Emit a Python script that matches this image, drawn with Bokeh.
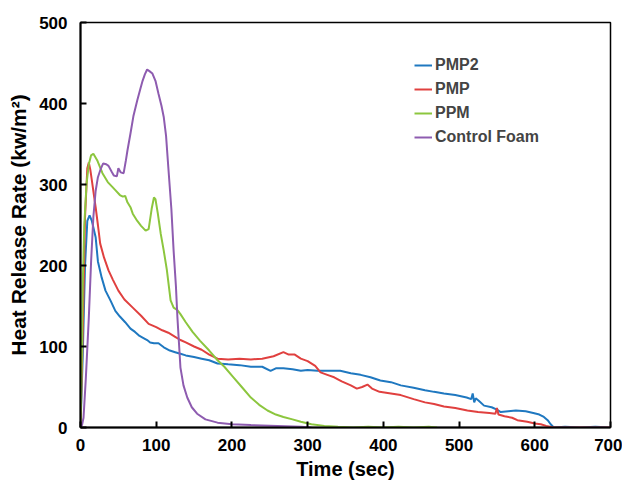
from bokeh.plotting import figure
from bokeh.models import Legend, LegendItem, FixedTicker
from bokeh.embed import file_html
from bokeh.resources import INLINE

# PMP2 (blue)
pmp2_t = [0, 3, 6, 9, 12, 15, 20, 23, 28, 33, 40, 46, 52, 59, 66, 72, 78, 82, 88, 92, 97, 103, 110, 118, 125, 132, 139, 150, 160, 170, 181, 195, 210, 225, 240, 251, 258, 268, 280, 291, 300, 313, 330, 343, 357, 370, 383, 396, 410, 423, 440, 455, 467, 480, 495, 510, 516, 518, 520, 522, 526, 533, 543, 550, 555, 565, 575, 588, 598, 606, 612, 617, 621, 625, 640, 660, 680, 700]
pmp2_y = [0, 90, 200, 255, 262, 255, 235, 205, 185, 169, 156, 144, 137, 130, 122, 118, 113, 111, 108, 105, 104, 104, 99, 95, 93, 91, 89, 87, 85, 83, 79, 78, 77, 75, 75, 70, 73, 73, 72, 70, 71, 70, 70, 70, 67, 65, 62, 58, 56, 52, 49, 46, 44, 42, 40, 37, 35, 42, 31, 36, 33, 27, 25, 22, 19, 20, 21, 20, 18, 16, 13, 9, 4, 0, 1, 0, 1, 0]

# PMP (red)
pmp_t = [0, 3, 6, 9, 11, 13, 15, 18, 20, 23, 26, 31, 37, 43, 50, 58, 69, 80, 90, 100, 108, 116, 125, 132, 139, 150, 160, 170, 181, 195, 210, 225, 240, 255, 268, 275, 283, 291, 300, 310, 317, 326, 335, 345, 357, 365, 372, 379, 385, 395, 410, 423, 440, 455, 467, 480, 495, 511, 525, 540, 548, 550, 552, 560, 570, 577, 590, 600, 608, 615, 625, 650, 675, 700]
pmp_y = [0, 120, 260, 320, 327, 318, 305, 285, 272, 250, 227, 210, 194, 182, 169, 158, 148, 138, 128, 124, 120, 117, 112, 108, 105, 100, 96, 90, 85, 84, 85, 84, 85, 88, 93, 90, 90, 85, 82, 76, 68, 65, 62, 57, 52, 48, 50, 53, 48, 44, 42, 40, 35, 31, 29, 26, 24, 21, 19, 18, 17, 24, 16, 14, 12, 9, 7, 5, 4, 2, 0, 0, 0, 0]

# PPM (green)
ppm_t = [0, 2, 3, 5, 8, 11, 14, 17, 22, 29, 36, 42, 46, 52, 56, 59, 62, 66, 69, 75, 80, 86, 90, 94, 97, 99, 102, 106, 110, 114, 119, 123, 128, 132, 139, 148, 158, 170, 181, 190, 202, 213, 225, 236, 247, 258, 268, 280, 291, 305, 322, 340, 360, 380, 400, 420, 440, 460, 471]
ppm_y = [0, 100, 178, 250, 301, 325, 336, 338, 330, 314, 303, 297, 293, 287, 285, 286, 278, 272, 264, 255, 249, 243, 245, 270, 284, 282, 265, 239, 218, 195, 157, 148, 145, 140, 130, 118, 107, 95, 83, 75, 62, 50, 37, 28, 21, 16, 13, 10, 7, 4, 2, 1, 0, 1, 0, 1, 0, 1, 0]

# Control Foam (purple)
cf_t = [0, 2, 4, 7, 11, 14, 17, 20, 23, 27, 30, 34, 37, 41, 44, 48, 50, 53, 57, 60, 62, 66, 70, 75, 79, 82, 85, 88, 91, 95, 99, 103, 107, 110, 113, 116, 120, 123, 126, 128, 130, 132, 136, 141, 147, 154, 165, 181, 200, 225, 260, 291, 305]
cf_y = [0, 3, 12, 60, 136, 205, 260, 292, 309, 320, 326, 325, 323, 316, 311, 310, 320, 315, 314, 330, 342, 363, 385, 404, 418, 428, 436, 442, 440, 437, 428, 412, 397, 383, 360, 321, 270, 218, 175, 136, 105, 74, 52, 37, 25, 17, 10, 6, 4, 3, 2, 1, 0]

series_names = ["PMP2", "PMP", "PPM", "Control Foam"]
series_colors = ["#1f78c0", "#e0403f", "#8cc63e", "#8e5cb0"]

x_ticks = [0, 100, 200, 300, 400, 500, 600, 700]
y_ticks = [0, 100, 200, 300, 400, 500]

FONT = "Liberation Sans"

p = figure(width=622, height=482, x_range=(0, 700), y_range=(0, 500),
           output_backend="svg", toolbar_location=None,
           min_border_left=80, min_border_right=12, min_border_top=22, min_border_bottom=50)

renderers = []
for (t, y), c in zip([(pmp2_t, pmp2_y), (pmp_t, pmp_y), (ppm_t, ppm_y), (cf_t, cf_y)], series_colors):
    r = p.line(t, y, line_color=c, line_width=2)
    renderers.append(r)

p.xgrid.visible = False
p.ygrid.visible = False
p.outline_line_color = "black"
p.outline_line_width = 1.5

for ax in (p.xaxis[0], p.yaxis[0]):
    ax.axis_line_width = 2
    ax.axis_line_color = "black"
    ax.major_tick_in = 6
    ax.major_tick_out = 0
    ax.major_tick_line_width = 2
    ax.minor_tick_line_color = None
    ax.major_label_text_font = FONT
    ax.major_label_text_font_style = "bold"
    ax.major_label_text_font_size = "17px"
    ax.major_label_text_color = "black"
    ax.axis_label_text_font = FONT
    ax.axis_label_text_font_style = "bold"
    ax.axis_label_text_font_size = "20px"
    ax.axis_label_text_color = "black"

p.yaxis[0].axis_label_text_font_size = "21px"
p.xaxis[0].ticker = FixedTicker(ticks=x_ticks)
p.yaxis[0].ticker = FixedTicker(ticks=y_ticks)
p.xaxis[0].axis_label = "Time (sec)"
p.yaxis[0].axis_label = "Heat Release Rate (kw/m²)"
p.xaxis[0].major_label_standoff = 11
p.yaxis[0].major_label_standoff = 13
p.xaxis[0].axis_label_standoff = 4
p.yaxis[0].axis_label_standoff = 6

legend = Legend(items=[LegendItem(label=n, renderers=[r]) for n, r in zip(series_names, renderers)],
                location=(334, 280), background_fill_alpha=0, border_line_color=None,
                label_text_font=FONT, label_text_font_style="bold", label_text_font_size="16px",
                glyph_width=18, label_standoff=3, spacing=4, padding=0, margin=0)
p.add_layout(legend, "center")

open("out.html", "w").write(file_html(p, INLINE))
